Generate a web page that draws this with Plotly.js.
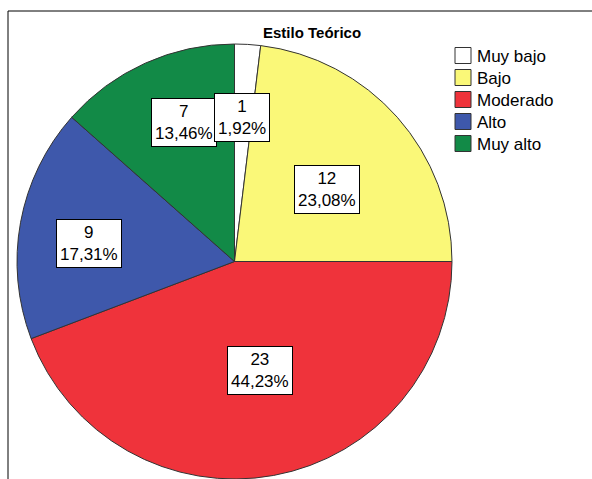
<!DOCTYPE html>
<html>
<head>
<meta charset="utf-8">
<script src="https://cdn.plot.ly/plotly-3.0.1.min.js"></script>
<style>html,body{margin:0;padding:0;background:#fff;}#chart{width:592px;height:479px;}</style>
</head>
<body>
<div id="chart"></div>
<script>
const categories = ["Muy bajo", "Bajo", "Moderado", "Alto", "Muy alto"];
const counts = [1, 12, 23, 9, 7];
const percentLabels = ["1,92%", "23,08%", "44,23%", "17,31%", "13,46%"];
const colors = ["#ffffff", "#faf878", "#ef333b", "#3e58ab", "#128a47"];

const W = 592, H = 479;
const FONT = 'Liberation Sans, Arial, sans-serif';
const dom = {x0: 17, x1: 452, y0: 44, y1: 479};
const cx = (dom.x0 + dom.x1) / 2, cy = (dom.y0 + dom.y1) / 2, R = (dom.x1 - dom.x0) / 2;
// label placement (fraction of radius, angular nudge in degrees)
const labelRadius = [0.665, 0.542, 0.514, 0.675, 0.678];
const labelNudge = [-0.5, 3.6, -2.6, -3.2, 4.2];

const total = counts.reduce((a, b) => a + b, 0);
let cum = 0;
const sliceLabels = [];
const annotations = [];
const shapes = [
  {type: 'line', xref: 'paper', yref: 'paper', x0: 8 / W, x1: 1, y0: 1 - 11 / H, y1: 1 - 11 / H, line: {color: '#000', width: 1}},
  {type: 'line', xref: 'paper', yref: 'paper', x0: 8 / W, x1: 8 / W, y0: 1 - 11 / H, y1: 0, line: {color: '#000', width: 1}}
];
counts.forEach((v, i) => {
  const mid = (cum + v / 2) / total * 2 * Math.PI + labelNudge[i] * Math.PI / 180;
  cum += v;
  const r = R * labelRadius[i];
  const px = cx + r * Math.sin(mid);
  const py = cy - r * Math.cos(mid);
  sliceLabels.push({
    x: px / W, y: 1 - py / H, xref: 'paper', yref: 'paper',
    xanchor: 'center', yanchor: 'middle', showarrow: false,
    text: v + '<br>' + percentLabels[i],
    font: {family: FONT, size: 17, color: '#000'},
    bgcolor: '#ffffff', bordercolor: '#000000', borderwidth: 1, borderpad: 3
  });
});
// first slice's label is drawn on top
annotations.push(...sliceLabels.reverse());
annotations.push({
  x: 312 / W, y: 1 - 32.5 / H, xref: 'paper', yref: 'paper', showarrow: false,
  text: '<b>Estilo Teórico</b>', xanchor: 'center', yanchor: 'middle',
  font: {family: FONT, size: 15, color: '#000'}
});

// legend drawn as shapes + text
const legX = 455, legY0 = 55.5, legStep = 22, sym = 16;
categories.forEach((c, i) => {
  const yc = legY0 + i * legStep;
  shapes.push({
    type: 'rect', xref: 'paper', yref: 'paper',
    x0: legX / W, x1: (legX + sym) / W,
    y0: 1 - (yc - sym / 2) / H, y1: 1 - (yc + sym / 2) / H,
    fillcolor: colors[i], line: {color: '#333333', width: 1}
  });
  annotations.push({
    x: (legX + sym + 4) / W, y: 1 - (yc + 1) / H, xref: 'paper', yref: 'paper',
    xanchor: 'left', yanchor: 'middle', showarrow: false,
    text: c, font: {family: FONT, size: 17, color: '#000'}
  });
});

const data = [{
  type: 'pie',
  labels: categories,
  values: counts,
  sort: false,
  direction: 'clockwise',
  rotation: 0,
  textinfo: 'none',
  hoverinfo: 'skip',
  marker: {colors: colors, line: {color: '#333333', width: 1}},
  domain: {x: [dom.x0 / W, dom.x1 / W], y: [1 - dom.y1 / H, 1 - dom.y0 / H]}
}];

const layout = {
  width: W, height: H,
  margin: {l: 0, r: 0, t: 0, b: 0},
  paper_bgcolor: '#fff',
  showlegend: false,
  annotations: annotations,
  shapes: shapes
};

Plotly.newPlot('chart', data, layout, {displayModeBar: false, staticPlot: true});
</script>
</body>
</html>
